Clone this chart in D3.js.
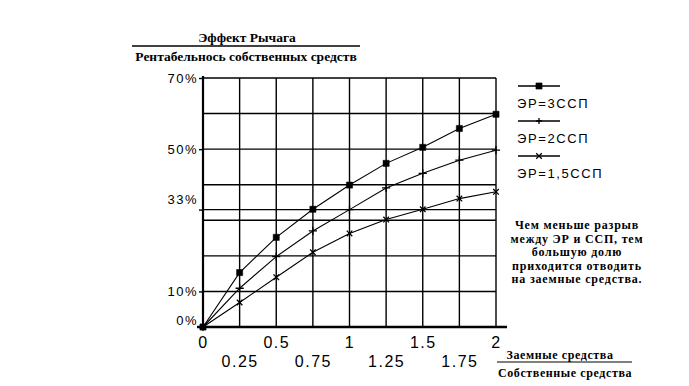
<!DOCTYPE html>
<html><head><meta charset="utf-8">
<script src="https://cdn.jsdelivr.net/npm/d3@7/dist/d3.min.js"></script>
<style>
body{margin:0;background:#fff;}
svg{display:block;}
.serif{font-family:"Liberation Serif","DejaVu Serif",serif;font-weight:bold;}
.sans{font-family:"Liberation Sans",Arial,sans-serif;}
</style></head>
<body><svg id="c" width="689" height="386"></svg>
<script>
// ---- data ----
const xValues = [0, 0.25, 0.5, 0.75, 1, 1.25, 1.5, 1.75, 2];
const seriesNames = ["ЭР=3ССП", "ЭР=2ССП", "ЭР=1,5ССП"];
const er3 = [0, 15.3, 25.2, 33.1, 39.9, 46.0, 50.5, 55.8, 59.8];
const er2 = [0, 10.9, 19.8, 27.0, 33.0, 39.1, 43.2, 46.9, 49.7];
const er15 = [0, 6.9, 14.0, 21.0, 26.3, 30.2, 33.1, 36.1, 38.0];
const yGridValues = [0, 10, 20, 30, 33, 40, 50, 60, 70];
const yTickValues = [0, 10, 33, 50, 70];
const xTicksMajor = [0, 0.5, 1, 1.5, 2];
const xTicksMinor = [0.25, 0.75, 1.25, 1.75];
const yTitle = ["Эффект Рычага", "Рентабельнось собственных средств"];
const xTitle = ["Заемные средства", "Собственные средства"];
const note = ["Чем меньше разрыв", "между ЭР и ССП, тем", "большую долю", "приходится отводить", "на заемные средства."];

const svg = d3.select("#c");
const x = d3.scaleLinear().domain([0, 2]).range([203, 496]);
const y = d3.scaleLinear().domain([0, 70]).range([327, 78]);

// grid
const g = svg.append("g");
g.selectAll("line.h").data(yGridValues).join("line")
  .attr("x1", x(0)).attr("x2", x(2)).attr("y1", d => y(d)).attr("y2", d => y(d))
  .attr("stroke", "#000").attr("stroke-width", 1.4);
g.selectAll("line.v").data(xValues.slice(1)).join("line")
  .attr("x1", d => x(d)).attr("x2", d => x(d)).attr("y1", y(70)).attr("y2", y(0))
  .attr("stroke", "#000").attr("stroke-width", 1.4);
// axes lines
g.append("line").attr("x1", x(0)).attr("x2", x(0)).attr("y1", y(70) - 2).attr("y2", y(0) + 2)
  .attr("stroke", "#000").attr("stroke-width", 2.2);
g.append("line").attr("x1", x(0) - 6).attr("x2", x(2) + 11).attr("y1", y(0)).attr("y2", y(0))
  .attr("stroke", "#000").attr("stroke-width", 2.6);

// y axis labels
const ya = svg.append("g").attr("transform", `translate(${x(0)},0)`)
  .call(d3.axisLeft(y).tickValues(yTickValues).tickFormat(d => d + "%").tickSize(4).tickPadding(1));
ya.select(".domain").remove();
ya.selectAll("line").attr("stroke-width", 1.4);
ya.selectAll("text").attr("class", "sans").attr("font-size", 13).attr("letter-spacing", 1.5)
  .attr("fill", "#000").attr("dy", d => d === 33 ? "-0.5em" : d === 0 ? "-0.2em" : "0.32em");

// x axis labels
const xa1 = svg.append("g").attr("transform", `translate(0,${y(0)})`)
  .call(d3.axisBottom(x).tickValues(xTicksMajor).tickFormat(d3.format("")).tickSize(0).tickPadding(10));
xa1.select(".domain").remove();
xa1.selectAll("text").attr("class", "sans").attr("font-size", 16).attr("letter-spacing", 1.5).attr("fill", "#000");
const xa2 = svg.append("g").attr("transform", `translate(0,${y(0)})`)
  .call(d3.axisBottom(x).tickValues(xTicksMinor).tickFormat(d3.format("")).tickSize(0).tickPadding(29));
xa2.select(".domain").remove();
xa2.selectAll("text").attr("class", "sans").attr("font-size", 16).attr("letter-spacing", 1.5).attr("fill", "#000");

// series
const seriesData = [er3, er2, er15];
const symbols = [d3.symbolSquare, d3.symbolPlus, d3.symbolX];
const symSizes = [38, 24, 22];
const line = d3.line().x((d, i) => x(xValues[i])).y(d => y(d));
seriesData.forEach((s, k) => {
  svg.append("path").datum(s).attr("d", line).attr("fill", "none")
    .attr("stroke", "#000").attr("stroke-width", 1.1);
  svg.selectAll(null).data(s).join("path")
    .attr("transform", (d, i) => `translate(${x(xValues[i])},${y(d)})`)
    .attr("d", d3.symbol().type(symbols[k]).size(symSizes[k]))
    .attr("fill", k === 0 ? "#000" : "none").attr("stroke", "#000").attr("stroke-width", k === 0 ? 0.5 : 1.3);
});

// legend
const lg = svg.append("g");
seriesNames.forEach((n, k) => {
  const ly = 86 + k * 35;
  lg.append("line").attr("x1", 518).attr("x2", 560).attr("y1", ly).attr("y2", ly)
    .attr("stroke", "#000").attr("stroke-width", 1.3);
  lg.append("path").attr("transform", `translate(539,${ly})`)
    .attr("d", d3.symbol().type(symbols[k]).size(k === 1 ? 14 : symSizes[k]))
    .attr("fill", k === 0 ? "#000" : "none").attr("stroke", "#000").attr("stroke-width", k === 0 ? 0.5 : 1.3);
  lg.append("text").attr("class", "sans").attr("x", 517).attr("y", ly + 22)
    .attr("font-size", 13).attr("letter-spacing", 1.6).text(n);
});

// y title
svg.append("text").attr("class", "serif").attr("x", 247).attr("y", 42)
  .attr("text-anchor", "middle").attr("font-size", 13.5).text(yTitle[0]);
svg.append("line").attr("x1", 132).attr("x2", 360).attr("y1", 46).attr("y2", 46)
  .attr("stroke", "#000").attr("stroke-width", 1.3);
svg.append("text").attr("class", "serif").attr("x", 246).attr("y", 61)
  .attr("text-anchor", "middle").attr("font-size", 13.5).text(yTitle[1]);

// x title
svg.append("text").attr("class", "serif").attr("x", 560).attr("y", 359)
  .attr("text-anchor", "middle").attr("font-size", 12).attr("letter-spacing", 0.6).text(xTitle[0]);
svg.append("line").attr("x1", 497).attr("x2", 632).attr("y1", 362).attr("y2", 362)
  .attr("stroke", "#000").attr("stroke-width", 1.2);
svg.append("text").attr("class", "serif").attr("x", 565).attr("y", 377)
  .attr("text-anchor", "middle").attr("font-size", 12).attr("letter-spacing", 0.6).text(xTitle[1]);

// note
svg.append("g").selectAll("text").data(note).join("text").attr("class", "serif")
  .attr("x", 577).attr("y", (d, i) => 229 + i * 13.5).attr("text-anchor", "middle")
  .attr("font-size", 12).attr("letter-spacing", 0.8).text(d => d);
</script></body></html>
